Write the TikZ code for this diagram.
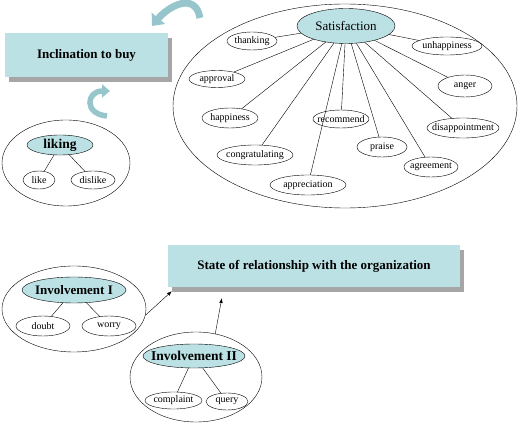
\documentclass[tikz,border=0pt]{standalone}
\usepackage{fontspec}
\setmainfont{Liberation Serif}
\usepackage{xcolor}
\usetikzlibrary{arrows.meta,positioning,shapes.geometric,calc,shadows}

\definecolor{paleteal}{HTML}{BCE1E4}
\definecolor{bendteal}{HTML}{96C6CC}

\begin{document}
\begin{tikzpicture}[x=1pt, y=1pt, >=Latex, every node/.style={font=\fontsize{10}{12}\selectfont, align=center, inner sep=0pt},
  titlebox/.style={fill=paleteal, font=\fontsize{13}{15}\selectfont\bfseries,
    drop shadow={shadow xshift=4pt, shadow yshift=-5pt, fill=black!35, opacity=1}},
  group/.style={draw, ellipse},
  hub/.style={draw, ellipse, fill=paleteal, inner xsep=-10pt, inner ysep=-3pt, font=\fontsize{13}{15}\selectfont\bfseries},
  leaf/.style={draw, ellipse, inner xsep=-10pt, inner ysep=-3pt},
  bendarrow/.style={line width=7pt, bendteal, -{Triangle[width=17pt, length=10pt]}}]
\useasboundingbox (0,0) rectangle (520,423);

% top left: inclination to buy
\node (buy) [titlebox, minimum width=163, minimum height=44] at (86.5,368) {Inclination to buy};
\node (likeg) [group, minimum width=128, minimum height=86] at (66,260) {};
\node (liking) [hub, minimum width=66, minimum height=20, font=\fontsize{13.5}{15}\selectfont\bfseries] at (60,278) {liking};
\node (like) [leaf, minimum width=32, minimum height=18] at (39,243) {like};
\node (dislike) [leaf, minimum width=44, minimum height=18] at (93,243) {dislike};
\draw (liking) -- (like);
\draw (liking) -- (dislike);

\coordinate (t1) at (200,405);
\coordinate (t2) at (152,397);
\draw[bendarrow] (t1) to[out=100, in=50, looseness=1.4] (t2);
\coordinate (b1) at (107,307);
\coordinate (b2) at (110,332);
\draw[bendarrow, line width=5.5pt, -{Triangle[width=13pt, length=8pt]}] (b1) to[out=175, in=180, looseness=2.4] (b2);

% satisfaction
\node (satg) [group, minimum width=344, minimum height=204] at (345,317) {};
\node (sat) [hub, minimum width=98, minimum height=35, font=\fontsize{13}{15}\selectfont] at (346,397) {Satisfaction};
\node (thanking) [leaf, minimum width=50, minimum height=18] at (252,382) {thanking};
\node (approval) [leaf, minimum width=56, minimum height=17] at (217,344) {approval};
\node (happiness) [leaf, minimum width=56, minimum height=20] at (230,305) {happiness};
\node (congrat) [leaf, minimum width=76, minimum height=20] at (255,268) {congratulating};
\node (apprec) [leaf, minimum width=76, minimum height=20] at (308,238) {appreciation};
\node (recommend) [leaf, minimum width=56, minimum height=18] at (341,304) {recommend};
\node (praise) [leaf, minimum width=50, minimum height=20] at (382,276) {praise};
\node (agreement) [leaf, minimum width=54, minimum height=20] at (431,256) {agreement};
\node (disappoint) [leaf, minimum width=72, minimum height=20] at (463,295) {disappointment};
\node (anger) [leaf, minimum width=54, minimum height=22] at (465,337) {anger};
\node (unhappy) [leaf, minimum width=70, minimum height=18] at (447,377) {unhappiness};
\foreach \c in {thanking,approval,happiness,congrat,apprec,recommend,praise,agreement,disappoint,anger,unhappy}
  \draw (sat) -- (\c);

% bottom: relationship
\node (state) [titlebox, minimum width=292, minimum height=42] at (314,157) {State of relationship with the organization};

\node (inv1g) [group, minimum width=144, minimum height=86] at (74,114) {};
\node (inv1) [hub, minimum width=104, minimum height=26] at (74,133) {Involvement I};
\node (doubt) [leaf, minimum width=54, minimum height=20] at (43,97) {doubt};
\node (worry) [leaf, minimum width=54, minimum height=20] at (109,97) {worry};
\draw (inv1) -- (doubt);
\draw (inv1) -- (worry);

\node (inv2g) [group, minimum width=132, minimum height=90] at (196,46) {};
\node (inv2) [hub, minimum width=102, minimum height=24, font=\fontsize{13.5}{15}\selectfont\bfseries] at (194,67) {Involvement II};
\node (complaint) [leaf, minimum width=57, minimum height=17] at (173.5,22.5) {complaint};
\node (query) [leaf, minimum width=42, minimum height=17] at (227,21.5) {query};
\draw (inv2) -- (complaint);
\draw (inv2) -- (query);

\draw[->] (inv1g.-5) -- ($(state.south west)+(4,-4)$);
\draw[->] (inv2g.66) -- ($(state.south west)+(54,-11)$);
\end{tikzpicture}
\end{document}
